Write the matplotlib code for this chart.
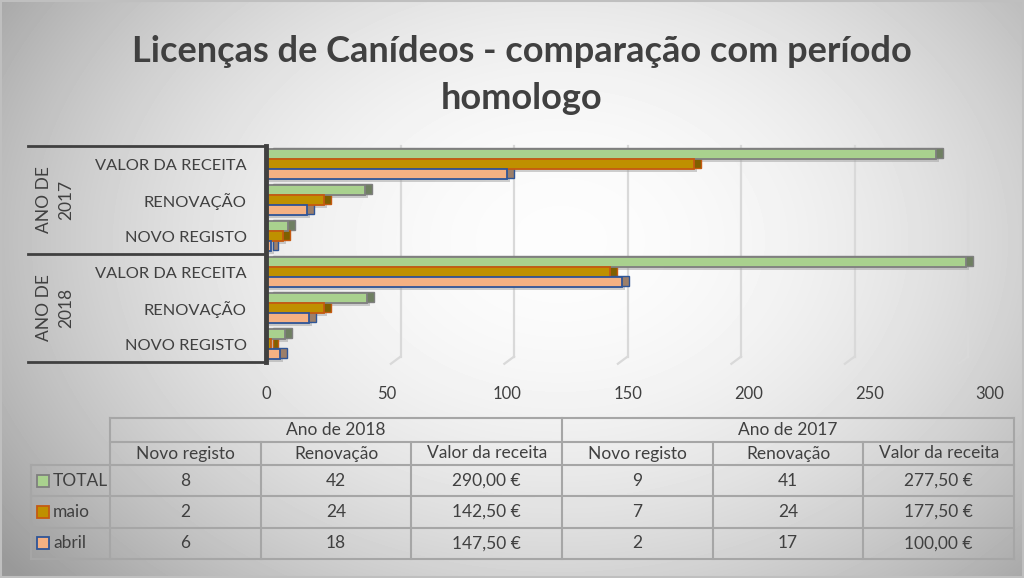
import matplotlib.pyplot as plt
import matplotlib.transforms as mtransforms
import numpy as np
from matplotlib.patches import Rectangle

plt.rcParams['font.family'] = ['Lato', 'DejaVu Sans']

# data (same order as the table under the chart)
years = ['Ano de 2018', 'Ano de 2017']
metrics = ['Novo registo', 'Renovação', 'Valor da receita']
series = ['TOTAL', 'maio', 'abril']
total = [8, 42, 290.0, 9, 41, 277.5]
maio = [2, 24, 142.5, 7, 24, 177.5]
abril = [6, 18, 147.5, 2, 17, 100.0]
values = [total, maio, abril]

face = ['#A9D18E', '#BF9000', '#F4B183']
edge = ['#7F7F7F', '#C55A11', '#2F5597']
depth = ['#6F7F62', '#7F6000', '#9C7F6A']
txt = '#404040'

W, H = 1024, 578
fig = plt.figure(figsize=(W / 100, H / 100), dpi=100)

# background gradient
bg = fig.add_axes([0, 0, 1, 1])
yy, xx = np.mgrid[0:H, 0:W]
d = np.sqrt(((xx - 560) / 540.0) ** 2 + ((yy - 240) / 400.0) ** 2)
shade = 0.99 - 0.23 * np.clip(d, 0, 1.3) ** 2
bg.imshow(shade, cmap='gray', vmin=0, vmax=1, extent=(0, W, H, 0), aspect='auto')
bg.set_xlim(0, W)
bg.set_ylim(H, 0)
bg.axis('off')
bg.add_patch(Rectangle((1, 1), W - 2, H - 2, fill=False, ec='#BFBFBF', lw=1.5))

bg.text(522, 75, 'Licenças de Canídeos - comparação com período\nhomologo',
        ha='center', va='center', fontsize=26, fontweight='bold', color=txt,
        linespacing=1.5)

# main chart
x0, x1, ytop, ybot = 266, 990, 146, 362
ax = fig.add_axes([x0 / W, 1 - ybot / H, (x1 - x0) / W, (ybot - ytop) / H])
ax.patch.set_alpha(0)
ax.set_xlim(0, 300)
ax.set_ylim(-0.5, 5.5)

ypos = np.arange(len(total))
offs = [0.28, 0.0, -0.28]
h = 0.28

# back-wall gridlines (slightly compressed, shifted right for the 3D look)
ticks = np.arange(0, 301, 50)
for t in ticks[1:]:
    gx = 8.7 + 0.9407 * t
    ax.plot([gx, gx], [5.5, -0.35], color='#D9D9D9', lw=1.6, zorder=0, clip_on=False)
    ax.plot([gx, gx - 4.0], [-0.35, -0.55], color='#D9D9D9', lw=1.6, zorder=0, clip_on=False)

shift = mtransforms.ScaledTranslation(7 / 100, 1 / 100, fig.dpi_scale_trans)
floor = mtransforms.ScaledTranslation(3 / 100, -3 / 100, fig.dpi_scale_trans)
for k in range(3):
    ax.barh(ypos + offs[k], values[k], height=h, color='#A0A0A0', alpha=0.5,
            transform=ax.transData + floor, zorder=1)
    ax.barh(ypos + offs[k], values[k], height=h, color=depth[k], edgecolor=edge[k], lw=1.0,
            transform=ax.transData + shift, zorder=2)
    ax.barh(ypos + offs[k], values[k], height=h, color=face[k], edgecolor=edge[k],
            lw=1.3, zorder=3)

ax.set_xticks(ticks)
ax.set_xticklabels([str(t) for t in ticks], fontsize=12, color=txt)
ax.tick_params(axis='x', length=0, pad=17)
ax.set_yticks(ypos)
ax.set_yticklabels([m.upper() for m in metrics] * 2, fontsize=11.8, color=txt)
ax.tick_params(axis='y', length=0, pad=14)
for s in ['top', 'right', 'bottom']:
    ax.spines[s].set_visible(False)
ax.spines['left'].set_color('#404040')
ax.spines['left'].set_linewidth(3.5)
ax.spines['left'].set_zorder(5)

# category separators and year labels
for yb in [ytop, (ytop + ybot) / 2, ybot]:
    bg.plot([28, x0], [yb, yb], color='#404040', lw=2)
for i, yr in enumerate(years):
    yc = ybot - (ybot - ytop) / 4 * (1 + 2 * i)
    bg.text(55, yc, yr.upper().replace(' 2', '\n2'), rotation=90, ha='center', va='center',
            fontsize=12.5, color=txt, linespacing=1.5, multialignment='center')

# data table
lc = '#A6A6A6'
tx0, tx1 = 110, 1014
lx = 31
cw = (tx1 - tx0) / 6
r_top, r_sub, r_dat = 418, 442, 465
rh = (559 - r_dat) / 3
r_end = r_dat + 3 * rh

bg.plot([tx0, tx1], [r_top, r_top], color=lc, lw=1.5)
bg.plot([tx0, tx1], [r_sub, r_sub], color=lc, lw=1.5)
bg.plot([lx, tx1], [r_dat, r_dat], color=lc, lw=1.5)
for r in range(1, 4):
    bg.plot([lx, tx1], [r_dat + r * rh] * 2, color=lc, lw=1.5)
bg.plot([lx, lx], [r_dat, r_end], color=lc, lw=1.5)
for c in range(7):
    top = r_top if c % 3 == 0 else r_sub
    bg.plot([tx0 + c * cw] * 2, [top, r_end], color=lc, lw=1.5)

for j, yr in enumerate(years):
    bg.text(tx0 + (3 * j + 1.5) * cw, (r_top + r_sub) / 2, yr, ha='center', va='center',
            fontsize=12.5, color=txt)
    for m, name in enumerate(metrics):
        bg.text(tx0 + (3 * j + m + 0.5) * cw, (r_sub + r_dat) / 2, name, ha='center',
                va='center', fontsize=12.5, color=txt)

for k, name in enumerate(series):
    yc = r_dat + (k + 0.5) * rh
    bg.add_patch(Rectangle((37, yc - 6), 12, 12, fc=face[k], ec=edge[k], lw=1.3))
    bg.text(53, yc, name, ha='left', va='center', fontsize=12.5, color=txt)
    for c in range(6):
        v = values[k][c]
        if c % 3 == 2:
            s = f'{v:,.2f} €'.replace(',', 'X').replace('.', ',').replace('X', '.')
        else:
            s = str(int(v))
        bg.text(tx0 + (c + 0.5) * cw, yc, s, ha='center', va='center', fontsize=12.5, color=txt)

fig.savefig('out.png', dpi=100)
